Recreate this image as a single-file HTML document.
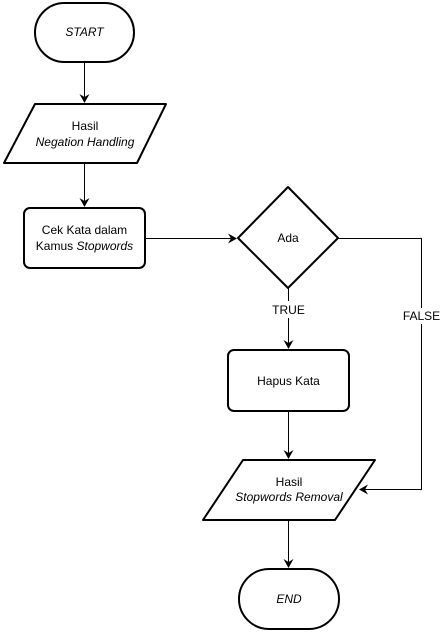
<!DOCTYPE html>
<html><head><style>
body{margin:0;background:#fff;}
svg text{font-family:"Liberation Sans",Arial,sans-serif;font-size:12px;fill:#000;}
</style></head><body>
<svg width="441" height="630" viewBox="0 0 441 630" xmlns="http://www.w3.org/2000/svg">
<defs><marker id="a" markerWidth="10" markerHeight="10" refX="8" refY="5" orient="auto" markerUnits="userSpaceOnUse">
<path d="M0,0 L9,5 L0,10 L3,5 Z" fill="#000"/></marker></defs>
<g fill="none" stroke="#000" stroke-width="2" stroke-linejoin="round">
<rect x="35" y="3" width="99" height="59" rx="29.5"/>
<path d="M35,104 L166,104 L137,163 L4,163 Z"/>
<rect x="24" y="208" width="121" height="60" rx="6"/>
<path d="M288,187 L338,238 L288,288 L238,238 Z"/>
<rect x="228" y="350" width="121" height="61" rx="6"/>
<path d="M243,460 L375,460 L335,520 L203,520 Z"/>
<rect x="239" y="569" width="100" height="60" rx="30"/>
</g>
<g fill="none" stroke="#000" stroke-width="1">
<line x1="84.5" y1="62" x2="84.5" y2="102" marker-end="url(#a)"/>
<line x1="84.5" y1="163" x2="84.5" y2="206" marker-end="url(#a)"/>
<line x1="145" y1="238.5" x2="236" y2="238.5" marker-end="url(#a)"/>
<line x1="288.5" y1="288" x2="288.5" y2="301"/>
<line x1="288.5" y1="318" x2="288.5" y2="348" marker-end="url(#a)"/>
<line x1="288.5" y1="411" x2="288.5" y2="458" marker-end="url(#a)"/>
<path d="M338,238.5 L421.5,238.5 L421.5,308 M421.5,324 L421.5,489.5 L360,489.5" marker-end="url(#a)"/>
<line x1="288.5" y1="520" x2="288.5" y2="567" marker-end="url(#a)"/>
</g>
<text x="84.5" y="36" text-anchor="middle" font-style="italic">START</text>
<text x="85" y="130" text-anchor="middle">Hasil</text>
<text x="85" y="146" text-anchor="middle" font-style="italic">Negation Handling</text>
<text x="84.5" y="234" text-anchor="middle">Cek Kata dalam</text>
<text x="84.5" y="250" text-anchor="middle">Kamus <tspan font-style="italic">Stopwords</tspan></text>
<text x="288" y="242" text-anchor="middle">Ada</text>
<text x="288.5" y="314" text-anchor="middle">TRUE</text>
<text x="421.5" y="320" text-anchor="middle">FALSE</text>
<text x="288.5" y="385" text-anchor="middle">Hapus Kata</text>
<text x="289" y="486" text-anchor="middle">Hasil</text>
<text x="289" y="501" text-anchor="middle" font-style="italic">Stopwords Removal</text>
<text x="289" y="603" text-anchor="middle" font-style="italic">END</text>
</svg>
</body></html>
